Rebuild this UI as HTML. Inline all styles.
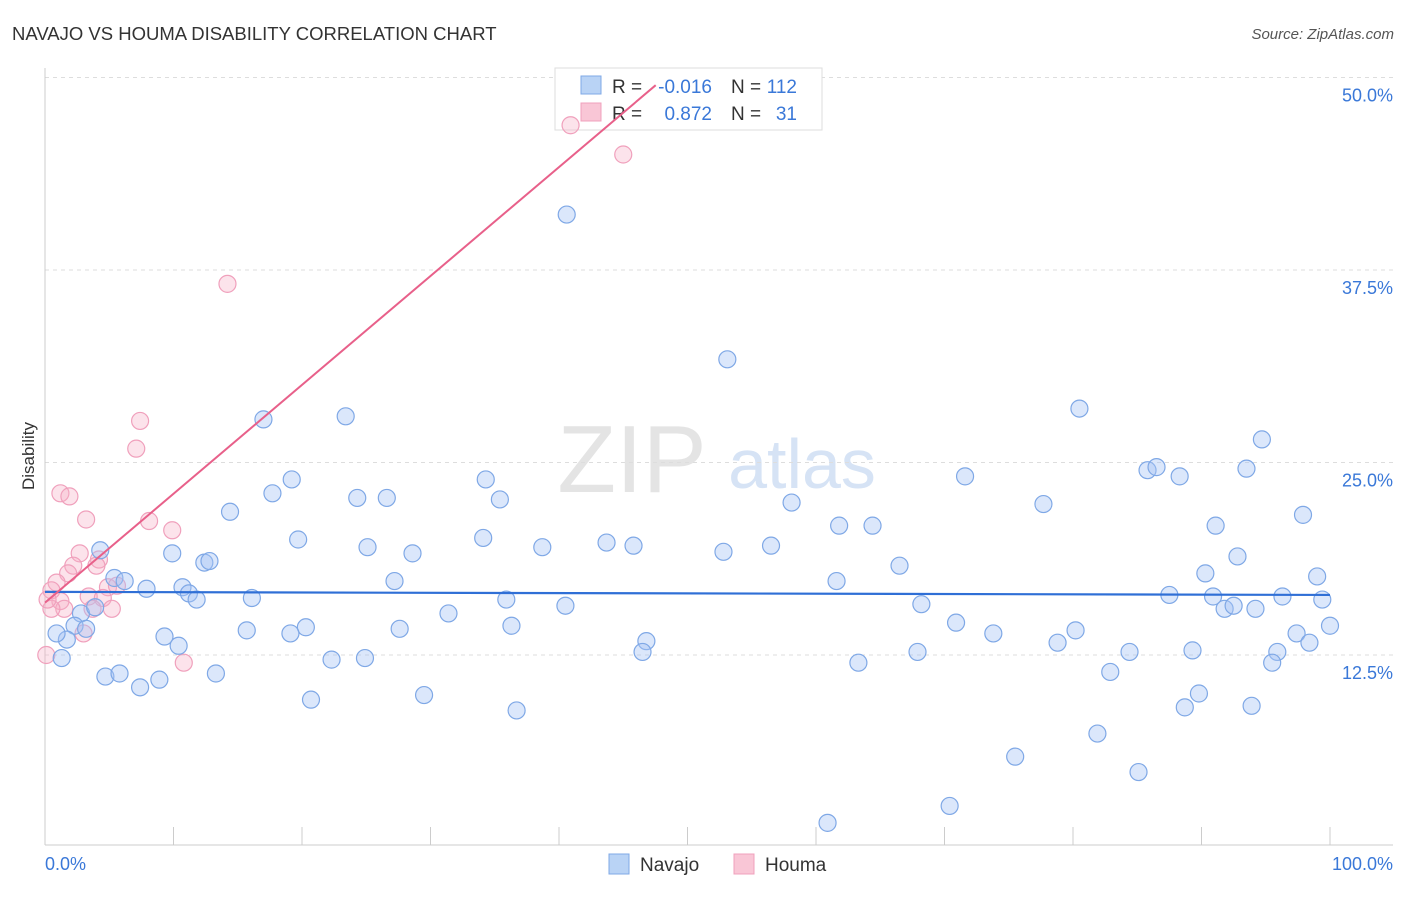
<!DOCTYPE html>
<html><head><meta charset="utf-8"><style>
body{margin:0;background:#fff;font-family:"Liberation Sans",sans-serif;}
svg text{font-family:"Liberation Sans",sans-serif;}
</style></head><body>
<svg id="chart" width="1406" height="892" xmlns="http://www.w3.org/2000/svg">
<text x="12" y="40" font-size="18.5" fill="#333">NAVAJO VS HOUMA DISABILITY CORRELATION CHART</text>
<text x="1394" y="39" font-size="15" fill="#555" text-anchor="end" font-style="italic">Source: ZipAtlas.com</text>
<g>
<text x="632" y="492" font-size="96" fill="#e4e4e4" font-family="Liberation Serif" text-anchor="middle">ZIP</text>
<text x="802" y="488" font-size="70" fill="#d6e3f5" text-anchor="middle">atlas</text>
</g>
<text transform="translate(34,456) rotate(-90)" font-size="17" fill="#333" text-anchor="middle">Disability</text>
<g id="grid"></g><g id="axes"></g>
<g>
<rect x="555" y="68" width="267" height="62" fill="#fff" stroke="#ddd"/>
<rect x="581" y="76" width="20" height="18" fill="#b9d3f5" stroke="#7fa8e6"/>
<rect x="581" y="103" width="20" height="18" fill="#f9c6d6" stroke="#f0a0bc"/>
<text x="612" y="93" font-size="19" fill="#333">R =</text>
<text x="712" y="93" font-size="19" fill="#3a78d8" text-anchor="end">-0.016</text>
<text x="731" y="93" font-size="19" fill="#333">N =</text>
<text x="797" y="93" font-size="19" fill="#3a78d8" text-anchor="end">112</text>
<text x="612" y="120" font-size="19" fill="#333">R =</text>
<text x="712" y="120" font-size="19" fill="#3a78d8" text-anchor="end">0.872</text>
<text x="731" y="120" font-size="19" fill="#333">N =</text>
<text x="797" y="120" font-size="19" fill="#3a78d8" text-anchor="end">31</text>
</g>
<g id="pts"></g><g id="lines"></g>
<g>
<rect x="609" y="854" width="20" height="20" fill="#b9d3f5" stroke="#7fa8e6"/>
<text x="640" y="871" font-size="19" fill="#333">Navajo</text>
<rect x="734" y="854" width="20" height="20" fill="#f9c6d6" stroke="#f0a0bc"/>
<text x="765" y="871" font-size="19" fill="#333">Houma</text>
</g>
</svg>
<script>
const yTicks=[12.5,25,37.5,50];
const yTickLabels=["12.5%","25.0%","37.5%","50.0%"];
const xTickLabels=["0.0%","100.0%"];
const navajoX=[40.6,53.1,80.5,17.0,23.4,94.7,85.8,86.5,88.3,93.5,71.6,19.2,17.7,24.3,26.6,34.3,35.4,14.4,58.1,77.7,97.9,61.8,64.4,91.1,19.7,34.1,25.1,43.7,45.8,38.7,56.5,52.8,28.6,9.9,4.3,92.8,12.4,12.8,66.5,90.3,99.0,27.2,61.6,5.4,6.2,7.9,10.7,11.2,11.8,16.1,87.5,90.9,96.3,99.4,35.9,68.2,40.5,91.8,92.5,94.2,31.4,2.8,3.9,2.3,3.2,20.3,36.3,15.7,19.1,27.6,70.9,73.8,80.2,100,9.3,10.4,1.7,0.9,97.4,98.4,46.8,46.5,78.8,95.9,84.4,89.3,67.9,1.3,22.3,24.9,63.3,95.5,82.9,4.7,5.8,8.9,13.3,7.4,29.5,20.7,89.8,88.7,93.9,36.7,81.9,75.5,85.1,70.4,60.9];
const navajoY=[41.1,31.7,28.5,27.8,28.0,26.5,24.5,24.7,24.1,24.6,24.1,23.9,23.0,22.7,22.7,23.9,22.6,21.8,22.4,22.3,21.6,20.9,20.9,20.9,20.0,20.1,19.5,19.8,19.6,19.5,19.6,19.2,19.1,19.1,19.3,18.9,18.5,18.6,18.3,17.8,17.6,17.3,17.3,17.5,17.3,16.8,16.9,16.5,16.1,16.2,16.4,16.3,16.3,16.1,16.1,15.8,15.7,15.5,15.7,15.5,15.2,15.2,15.6,14.4,14.2,14.3,14.4,14.1,13.9,14.2,14.6,13.9,14.1,14.4,13.7,13.1,13.5,13.9,13.9,13.3,13.4,12.7,13.3,12.7,12.7,12.8,12.7,12.3,12.2,12.3,12.0,12.0,11.4,11.1,11.3,10.9,11.3,10.4,9.9,9.6,10.0,9.1,9.2,8.9,7.4,5.9,4.9,2.7,1.6];
const houmaX=[40.9,45.0,14.2,7.4,7.1,1.2,1.9,3.2,8.1,9.9,2.7,4.2,2.2,1.8,4.0,0.9,0.5,1.2,3.4,4.9,5.6,4.5,1.5,3.7,5.2,0.5,3.0,10.8,0.1,0.2];
const houmaY=[46.9,45.0,36.6,27.7,25.9,23.0,22.8,21.3,21.2,20.6,19.1,18.7,18.3,17.8,18.3,17.2,16.7,16.0,16.3,16.9,17.0,16.2,15.5,15.5,15.5,15.5,13.9,12.0,12.5,16.1];
const navajoLine=[16.6,16.4];
const houmaLine=[15.9,0.707];
const NS="http://www.w3.org/2000/svg";
const X=v=>45+v*12.85, Y=v=>847.5-v*15.4;
function mk(t,a,p){const e=document.createElementNS(NS,t);for(const k in a)e.setAttribute(k,a[k]);p.appendChild(e);return e;}
const grid=document.getElementById('grid'),axes=document.getElementById('axes'),pts=document.getElementById('pts'),lines=document.getElementById('lines');
yTicks.forEach((t,i)=>{
 const l=mk('line',{x1:45,x2:1393,y1:Y(t),y2:Y(t),stroke:'#ddd','stroke-dasharray':'4,4'},grid);
 
 
 const tx=mk('text',{x:1393,y:Y(t)+24,'font-size':18,fill:'#3a78d8','text-anchor':'end'},axes);
 tx.textContent=yTickLabels[i];
 
 
});
const xa=mk('line',{x1:45,x2:1393,y1:845,y2:845,stroke:'#ccc'},axes);


const ya=mk('line',{x1:45,x2:45,y1:68,y2:845,stroke:'#ccc'},axes);


for(let i=0;i<=10;i++){const t=mk('line',{x1:X(i*10),x2:X(i*10),y1:827,y2:845,stroke:'#ccc'},axes);
 
 }
[[0,'start',45],[100,'end',1393]].forEach((d,i)=>{const t=mk('text',{x:d[2],y:870,'font-size':18,fill:'#3a78d8','text-anchor':d[1]},axes);t.textContent=xTickLabels[i];
 
 });
houmaX.forEach((v,i)=>{const c=mk('circle',{cx:X(v),cy:Y(houmaY[i]),r:8.5,fill:'rgba(246,175,198,0.35)',stroke:'#f0a0bc','stroke-width':1.2},pts);
 
 });
navajoX.forEach((v,i)=>{const c=mk('circle',{cx:X(v),cy:Y(navajoY[i]),r:(v===0?14:8.5),fill:'rgba(164,196,244,0.4)',stroke:'#7fa8e6','stroke-width':1.2},pts);
 
 });
const nl=mk('line',{x1:X(0),y1:Y(navajoLine[0]),x2:X(100),y2:Y(navajoLine[1]),stroke:'#2f6fd6','stroke-width':2.2},lines);


const xe=(49.5-houmaLine[0])/houmaLine[1];
const hl=mk('line',{x1:X(0),y1:Y(houmaLine[0]),x2:X(xe),y2:Y(49.5),stroke:'#e8608a','stroke-width':2},lines);


</script>
</body></html>
